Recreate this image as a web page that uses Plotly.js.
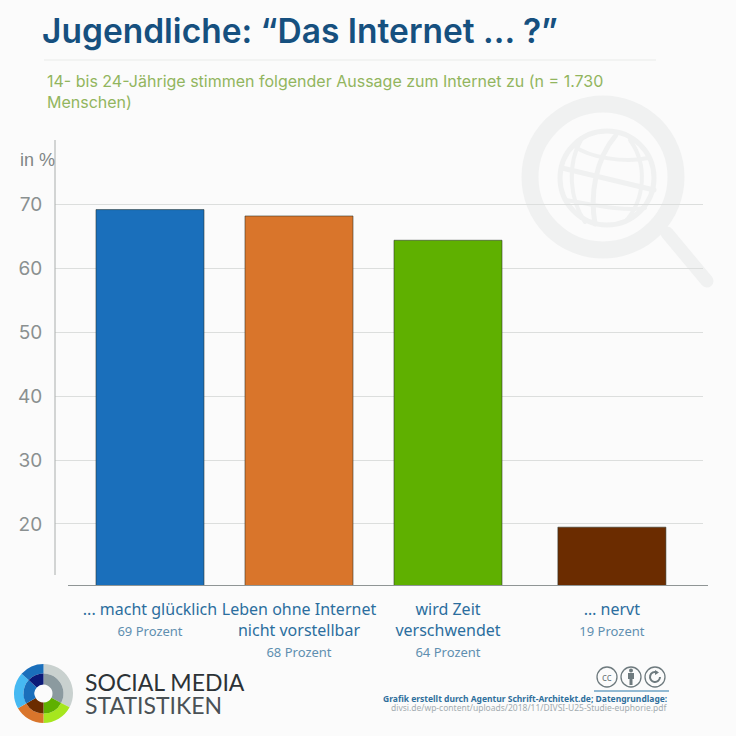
<!DOCTYPE html>
<html><head><meta charset="utf-8">
<script src="https://cdn.plot.ly/plotly-3.0.1.min.js"></script>
<style>html,body{margin:0;padding:0;background:#fbfbfb}</style></head>
<body><div id="chart" style="width:736px;height:736px"></div>
<script>
const categories = ['... macht glücklich', 'Leben ohne Internet<br>nicht vorstellbar', 'wird Zeit<br>verschwendet', '… nervt'];
const captions = ['69 Prozent', '68 Prozent', '64 Prozent', '19 Prozent'];
const values = [69.2, 68.2, 64.4, 19.5];
const slots = [0, 1, 2, 3.1];
const barColors = ['#1a6fbb', '#d9752b', '#5fb000', '#6b2c00'];
const yTicks = [20, 30, 40, 50, 60, 70];

const W = 736, L = 55, R = 703, T = 140, B = 585;
const px = x => (x - L) / (R - L);
const py = y => (B - y) / (B - T);
const uri = s => 'data:image/svg+xml;charset=utf-8,' + encodeURIComponent(s);
const box = (x, y, w, h) => ({xref:'paper', yref:'paper', x:px(x), y:py(y), sizex:w/(R-L), sizey:h/(B-T),
  xanchor:'left', yanchor:'top', sizing:'stretch', layer:'below'});

const magnifier = `<svg xmlns="http://www.w3.org/2000/svg" width="220" height="220" viewBox="510 85 220 220">
<g fill="none" stroke="#f0f1f1" stroke-linecap="round">
<circle cx="603" cy="177" r="73" stroke-width="17"/>
<circle cx="607" cy="178" r="47" stroke-width="5"/>
<path d="M667 233 L707 281" stroke-width="13"/>
<path d="M616 135 C595 160 590 195 595 224" stroke-width="5"/>
<path d="M582 138 C566 165 570 200 585 222" stroke-width="4"/>
<path d="M630 140 C648 165 645 200 625 222" stroke-width="4"/>
<path d="M562 168 L654 190" stroke-width="5"/>
<path d="M574 146 C590 158 625 163 648 158" stroke-width="4"/>
<path d="M566 200 C590 204 625 212 645 208" stroke-width="4"/>
</g></svg>`;

function arc(a0, a1, r0, r1, c) {
  const p = (a, r) => (43.5 + r * Math.sin(a * Math.PI / 180)).toFixed(2) + ' ' + (693.5 - r * Math.cos(a * Math.PI / 180)).toFixed(2);
  const big = a1 - a0 > 180 ? 1 : 0;
  return `<path fill="${c}" d="M${p(a0, r1)} A${r1} ${r1} 0 ${big} 1 ${p(a1, r1)} L${p(a1, r0)} A${r0} ${r0} 0 ${big} 0 ${p(a0, r0)} Z"/>`;
}
const logo = `<svg xmlns="http://www.w3.org/2000/svg" width="66" height="66" viewBox="10.5 660.5 66 66">` +
  arc(0,118,20,29.5,'#c9d1cf') + arc(118,180,20,29.5,'#a6e61e') + arc(180,240,20,29.5,'#d9752b') +
  arc(240,312,20,29.5,'#46b9f2') + arc(312,360,20,29.5,'#1a6fbb') +
  arc(0,118,9,20,'#8b9a9f') + arc(118,180,9,20,'#5fb000') + arc(180,240,9,20,'#6b2c00') +
  arc(240,312,9,20,'#1a6fbb') + arc(312,360,9,20,'#0b1a78') + `</svg>`;

const ccIcons = `<svg xmlns="http://www.w3.org/2000/svg" width="80" height="30" viewBox="595 662 80 30">
<g fill="none" stroke="#6e7a7e" stroke-width="1.3">
<circle cx="607" cy="677" r="10"/><circle cx="631" cy="677" r="10"/><circle cx="655" cy="677" r="10"/>
<path d="M660 677 A5 5 0 1 1 657 672.4" stroke-width="2"/></g>
<g fill="#6e7a7e"><circle cx="631" cy="670.5" r="2"/><path d="M628 673 h6 v6 h-1.5 v6 h-3 v-6 h-1.5 Z"/>
<path d="M655 670 l4 2.5 l-4 2.5 Z"/></g></svg>`;

const data = [{
  type: 'bar', x: slots, y: values, width: 0.725,
  marker: {color: barColors, line: {color: 'rgba(40,50,40,0.55)', width: 1}},
  hoverinfo: 'y'
}];

const ann = (text, x, y, size, color, family, extra) => Object.assign({
  text, xref:'paper', yref:'paper', x:px(x), y:py(y), xanchor:'left', yanchor:'middle', showarrow:false,
  align:'left', font:{size, color, family}
}, extra || {});

const layout = {
  width: W, height: W, showlegend: false,
  margin: {l: L, r: W - R, t: T, b: W - B, pad: 0},
  paper_bgcolor: '#fbfbfb', plot_bgcolor: 'rgba(0,0,0,0)',
  bargap: 0.2,
  title: {text: 'Jugendliche: “Das Internet ... ?”', x: 42/W, xanchor: 'left', y: 1 - 31/W, yanchor: 'middle',
    font: {family: 'Inter, "Open Sans", sans-serif', size: 33.5, color: '#16507f', weight: 600}},
  xaxis: {range: [-95/149, 553/149], tickvals: slots,
    ticktext: categories.map((c, i) => `${c}<br><span style="font-size:13px;color:#5f8fb0">${captions[i]}</span>`),
    tickfont: {family: '"Noto Sans", sans-serif', size: 16, color: '#2b6e9e'},
    ticks: 'outside', ticklen: 10, tickcolor: 'rgba(0,0,0,0)', showgrid: false, zeroline: false, showline: false, tickangle: 0},
  yaxis: {range: [10.45, 10.45 + 445/6.39], tickvals: yTicks, ticks: 'outside', ticklen: 8, tickcolor: 'rgba(0,0,0,0)',
    tickfont: {family: 'Inter, "Open Sans", sans-serif', size: 19, color: '#8a9090'},
    showgrid: true, gridcolor: '#dcdedd', gridwidth: 1.2, zeroline: false, showline: false},
  shapes: [
    {type:'line', xref:'paper', yref:'paper', x0:px(44), x1:px(656), y0:py(60), y1:py(60), line:{color:'#e9ebea', width:1.2}},
    {type:'line', xref:'paper', yref:'paper', x0:px(55), x1:px(55), y0:py(140), y1:py(575), line:{color:'#a9adac', width:1}},
    {type:'line', xref:'paper', yref:'paper', x0:px(68), x1:px(708), y0:py(585.5), y1:py(585.5), line:{color:'#8f9595', width:1.2}},
    {type:'line', xref:'paper', yref:'paper', x0:px(594), x1:px(669), y0:py(691), y1:py(691), line:{color:'#6fa3c4', width:1.5}}
  ],
  images: [
    Object.assign({source: uri(magnifier)}, box(510, 85, 220, 220)),
    Object.assign({source: uri(logo)}, box(10.5, 660.5, 66, 66)),
    Object.assign({source: uri(ccIcons)}, box(595, 662, 80, 30))
  ],
  annotations: [
    ann('14- bis 24-Jährige stimmen folgender Aussage zum Internet zu (n = 1.730<br>Menschen)', 45, 92, 16, '#92b55e', 'Inter, "Open Sans", sans-serif'),
    ann('in %', 18, 160, 18, '#7f8686', '"Liberation Sans Narrow", "Liberation Sans", sans-serif'),
    ann('SOCIAL MEDIA', 83, 682, 23, '#2c3236', 'Lato, sans-serif'),
    ann('STATISTIKEN', 83, 705, 23, '#4a5155', 'Lato, sans-serif'),
    ann('cc', 607, 677, 10, '#6e7a7e', '"Noto Sans", sans-serif', {xanchor:'center'}),
    ann('<b>Grafik erstellt durch Agentur Schrift-Architekt.de; Datengrundlage:</b>', 669, 698, 8.5, '#2f6f9c', '"Noto Sans", sans-serif', {xanchor:'right', align:'right'}),
    ann('divsi.de/wp-content/uploads/2018/11/DIVSI-U25-Studie-euphorie.pdf', 669, 707, 8.5, '#a3acb0', '"Noto Sans", sans-serif', {xanchor:'right', align:'right'})
  ]
};
Plotly.newPlot('chart', data, layout, {displayModeBar: false, responsive: false});
</script></body></html>
